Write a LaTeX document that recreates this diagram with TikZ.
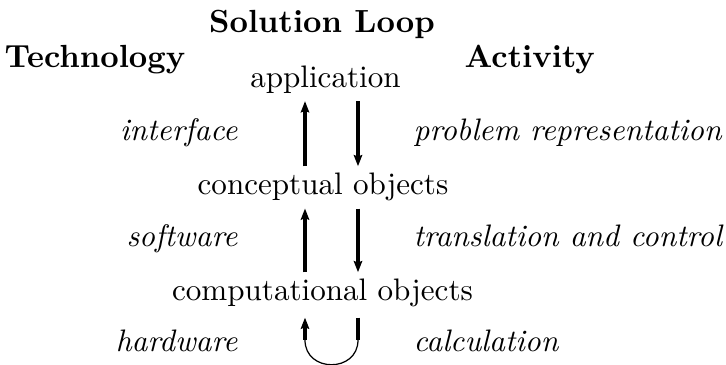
\documentclass[tikz,border=0pt]{standalone}
\usetikzlibrary{arrows.meta}
\begin{document}
\begin{tikzpicture}[x=0.3216pt,y=-0.3216pt,
  lbl/.style={inner xsep=0pt,inner ysep=2.1pt},
  head/.style={lbl,font=\fontsize{10.3}{12}\selectfont\bfseries},
  itl/.style={lbl,font=\itshape},
  thk/.style={line width=1.1pt},
  tip/.style={-{Stealth[length=3.6pt,width=2.7pt,inset=0.5pt]}}]
\useasboundingbox (0,0) rectangle (726,365);
\node[head,anchor=base] (title) at (322,33) {Solution Loop};
\node[head,anchor=base west] (tech) at (4,68) {Technology};
\node[head,anchor=base west] (act) at (464,68) {Activity};
\node[lbl,anchor=base] (app) at (325.5,88) {application};
\node[lbl,anchor=base] (conc) at (323,195) {conceptual objects};
\node[lbl,anchor=base] (comp) at (322.5,301) {computational objects};
\node[itl,anchor=base east] (intf) at (238,141) {interface};
\node[itl,anchor=base east] (soft) at (238,247) {software};
\node[itl,anchor=base east] (hard) at (238,352) {hardware};
\node[itl,anchor=base west] (prob) at (413,141) {problem representation};
\node[itl,anchor=base west] (trans) at (413,247) {translation and control};
\node[itl,anchor=base west] (calc) at (413,352) {calculation};
\coordinate (L) at (305,0);
\coordinate (R) at (358,0);
\coordinate (bl) at (305,340);
\coordinate (br) at (358,340);
\draw[thk,tip] (conc.north -| L) -- (app.south -| L);
\draw[thk,tip] (app.south -| R) -- (conc.north -| R);
\draw[thk,tip] (comp.north -| L) -- (conc.south -| L);
\draw[thk,tip] (conc.south -| R) -- (comp.north -| R);
\draw[thk,tip] (bl) -- ([yshift=-1pt]comp.south -| L);
\draw[thk] ([yshift=-1pt]comp.south -| R) -- (br);
\draw[line width=0.4pt] (bl) .. controls (305,373) and (358,373) .. (br);
\end{tikzpicture}
\end{document}
